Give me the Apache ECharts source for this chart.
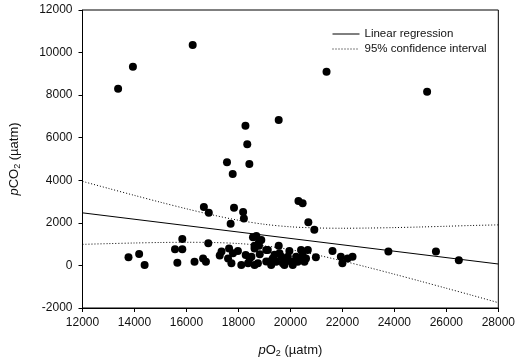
<!DOCTYPE html>
<html>
<head>
<meta charset="utf-8">
<script src="https://cdn.jsdelivr.net/npm/echarts@6/dist/echarts.min.js"></script>
<style>
  html, body { margin: 0; padding: 0; background: #fff; }
  #chart { width: 518px; height: 364px; }
</style>
</head>
<body>
<div id="chart"></div>
<script>
// Observations: pO2 (µatm) vs pCO2 (µatm)
const pO2 = [
  13370, 13940, 16240, 21390, 25260, 19550,
  18270, 18340, 17560, 18420, 17780,
  20310, 20470, 16670, 17830, 18180, 16860, 18210, 20690, 17700, 20920,
  18690, 18560, 15840, 18880, 18790,
  13770, 14180, 14390, 15560, 15840, 15650, 16310, 16640, 16750, 16840,
  17280, 17350, 17640, 17790, 17980, 17600, 17730, 18110, 18280, 18370,
  18500, 18620, 18750, 18620, 18790, 18820, 18620, 19070, 19070, 19130,
  19550, 19960, 20410, 20670, 20980, 21620, 21940, 22000, 22200, 22390,
  23770, 25600, 26480,
  19320, 19450, 19650, 19710, 19840, 20030, 20220, 20350, 20470, 20600,
  19260, 19770, 20090, 19580, 18430, 19900, 20280, 20540, 19200, 19390
];
const pCO2 = [
  8300, 9330, 10360, 9100, 8160, 6830,
  6560, 5690, 4850, 4770, 4300,
  3030, 2920, 2750, 2710, 2510, 2470, 2210, 2030, 1960, 1680,
  1380, 1320, 1240, 1200, 1100,
  380, 540, 20, 760, 760, 130, 170, 330, 170, 1040,
  470, 650, 800, 570, 680, 330, 100, 20, 490, 100,
  410, 20, 100, 930, 930, 520, 800, 730, 180, 730,
  930, 680, 730, 730, 380, 680, 410, 100, 330, 410,
  650, 650, 240,
  330, 170, 410, 100, 250, 170, 410, 250, 490, 330,
  20, 20, 20, 570, 330, 410, 170, 170, 180, 500
];

// Fitted regression line and its 95% confidence band
const regX = [12000, 28000];
const regY = [2470, 67];
const ciX = [12000, 13000, 14000, 15000, 16000, 17000, 18000, 19000, 20000,
             21000, 22000, 23000, 24000, 25000, 26000, 27000, 28000];
const ciUpper = [3950, 3618, 3290, 2969, 2661, 2373, 2123, 1932, 1815,
                 1761, 1747, 1756, 1777, 1806, 1840, 1877, 1905];
const ciLower = [990, 1024, 1054, 1077, 1087, 1077, 1029, 922, 741,
                 497, 213, -94, -413, -740, -1072, -1407, -1750];

// Axis ticks
const xTicks = { min: 12000, max: 28000, step: 2000 };
const yTicks = { min: -2000, max: 12000, step: 2000 };

const pairs = (xs, ys) => xs.map((x, i) => [x, ys[i]]);

const chart = echarts.init(document.getElementById('chart'));
const font = 'Arial, "Liberation Sans", sans-serif';
const titleRich = {
  i: { fontStyle: 'italic', fontSize: 13, fontFamily: font, color: '#111' },
  n: { fontSize: 13, fontFamily: font, color: '#111' },
  s: { fontSize: 9, fontFamily: font, color: '#111', padding: [7, 0, 0, 0] }
};

chart.setOption({
  animation: false,
  backgroundColor: '#fff',
  textStyle: { fontFamily: font },
  grid: {
    left: 82, right: 18, top: 10, bottom: 56,
    show: true, borderColor: '#000', borderWidth: 1, backgroundColor: 'transparent'
  },
  legend: {
    data: ['Linear regression', '95% confidence interval'],
    orient: 'vertical',
    left: 327, top: 23,
    itemWidth: 27, itemHeight: 8, itemGap: 3,
    itemStyle: { opacity: 0 },
    lineStyle: { width: 1 },
    textStyle: { fontSize: 11.5, color: '#111', fontFamily: font }
  },
  xAxis: {
    type: 'value',
    min: xTicks.min, max: xTicks.max, interval: xTicks.step,
    name: '{i|p}{n|O}{s|2}{n| (µatm)}',
    nameLocation: 'middle', nameGap: 34,
    nameTextStyle: { rich: titleRich },
    axisLine: { onZero: false, lineStyle: { color: '#000', width: 1 } },
    axisTick: { show: true, inside: false, length: 4, lineStyle: { color: '#000' } },
    axisLabel: { fontSize: 12, color: '#111', margin: 9, fontFamily: font, formatter: v => String(v) },
    splitLine: { show: false }
  },
  yAxis: {
    type: 'value',
    min: yTicks.min, max: yTicks.max, interval: yTicks.step,
    name: '{i|p}{n|CO}{s|2}{n| (µatm)}',
    nameLocation: 'middle', nameGap: 60, nameRotate: 90,
    nameTextStyle: { rich: titleRich },
    axisLine: { show: true, onZero: false, lineStyle: { color: '#000', width: 1 } },
    axisTick: { show: true, inside: false, length: 4, lineStyle: { color: '#000' } },
    axisLabel: { fontSize: 12, color: '#111', margin: 10, fontFamily: font, formatter: v => String(v) },
    splitLine: { show: false }
  },
  series: [
    {
      type: 'scatter',
      name: 'observations',
      data: pairs(pO2, pCO2),
      symbol: 'circle',
      symbolSize: 8,
      itemStyle: { color: '#000', opacity: 1 },
      z: 3
    },
    {
      type: 'line',
      name: 'Linear regression',
      data: pairs(regX, regY),
      symbol: 'none',
      lineStyle: { color: '#000', width: 1 },
      itemStyle: { color: '#000' },
      z: 2
    },
    {
      type: 'line',
      name: '95% confidence interval',
      data: pairs(ciX, ciUpper),
      symbol: 'none',
      smooth: 0.3,
      lineStyle: { color: '#000', width: 1, type: [1, 2] },
      itemStyle: { color: '#000' },
      z: 2
    },
    {
      type: 'line',
      name: '95% confidence interval',
      data: pairs(ciX, ciLower),
      symbol: 'none',
      smooth: 0.3,
      lineStyle: { color: '#000', width: 1, type: [1, 2] },
      itemStyle: { color: '#000' },
      z: 2
    }
  ]
});
</script>
</body>
</html>
